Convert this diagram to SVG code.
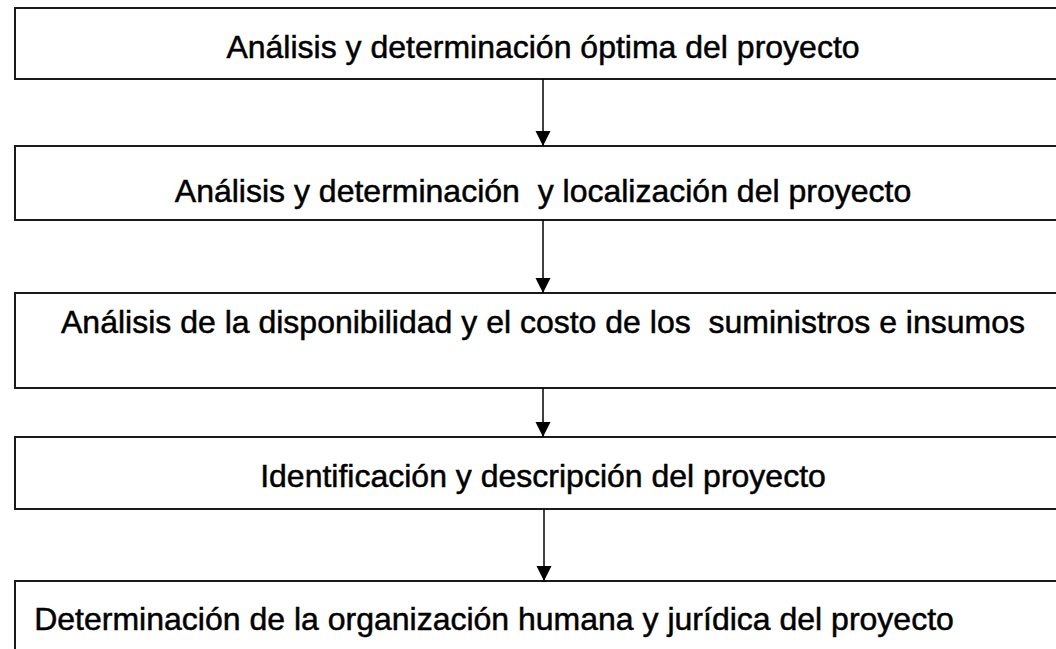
<svg xmlns="http://www.w3.org/2000/svg" width="1056" height="649" viewBox="0 0 1056 649">
<defs>
<marker id="ah" viewBox="0 0 10 10" refX="10" refY="5" markerWidth="15" markerHeight="16" markerUnits="userSpaceOnUse" orient="auto">
<path d="M0,0 L10,5 L0,10 z" fill="#000"/>
</marker>
<style>
.box{fill:#fff;stroke:#1a1a1a;stroke-width:2}
.lbl{font-family:"Liberation Sans",Arial,sans-serif;font-size:32px;fill:#000;stroke:#000;stroke-width:0.5;text-anchor:middle}
.conn{stroke:#000;stroke-width:1.5;fill:none;marker-end:url(#ah)}
</style>
</defs>
<rect width="1056" height="649" fill="#fff"/>
<g id="n1"><rect class="box" x="15" y="8" width="1060" height="71"/><text class="lbl" x="543" y="58" xml:space="preserve">Análisis y determinación óptima del proyecto</text></g>
<g id="n2"><rect class="box" x="15" y="146" width="1060" height="74"/><text class="lbl" x="543" y="202" xml:space="preserve">Análisis y determinación  y localización del proyecto</text></g>
<g id="n3"><rect class="box" x="15" y="293" width="1060" height="95"/><text class="lbl" x="543" y="333" xml:space="preserve">Análisis de la disponibilidad y el costo de los  suministros e insumos</text></g>
<g id="n4"><rect class="box" x="15" y="437" width="1060" height="72"/><text class="lbl" x="543" y="487" xml:space="preserve">Identificación y descripción del proyecto</text></g>
<g id="n5"><rect class="box" x="15" y="581" width="1060" height="80"/><text class="lbl" x="494" y="630" xml:space="preserve">Determinación de la organización humana y jurídica del proyecto</text></g>
<g id="connectors">
<line class="conn" x1="543" y1="79" x2="543" y2="146"/>
<line class="conn" x1="543" y1="220" x2="543" y2="293"/>
<line class="conn" x1="543" y1="388" x2="543" y2="437"/>
<line class="conn" x1="544" y1="509" x2="544" y2="581"/>
</g>
</svg>
